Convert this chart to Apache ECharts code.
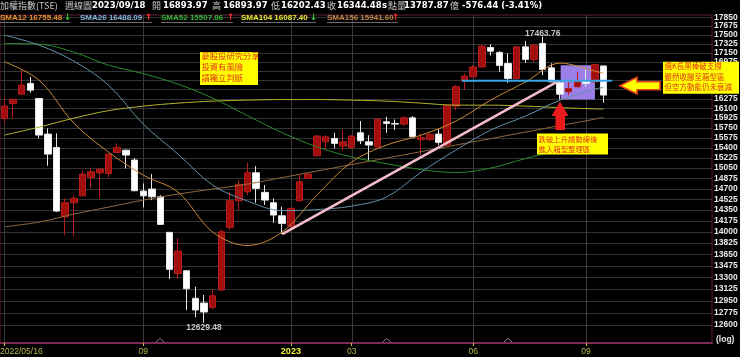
<!DOCTYPE html>
<html><head><meta charset="utf-8">
<script src="https://cdn.jsdelivr.net/npm/echarts@6/dist/echarts.min.js"></script>
<style>html,body{margin:0;padding:0;background:#000;}#c{width:740px;height:357px;}</style>
</head><body><div id="c"></div>
<script>
// ---- weekly candles (TAIEX), index 0 = 2022/05/16 ----
const openP  = [15918,16192,16362,16562,16283,15639,15405,14242,14470,14584,
                14892,14969,14959,15318,15358,15186,14662,14696,14568,13993,
                13353,13398,12986,12917,12854,13109,14072,14502,14650,14969,
                14641,14470,14258,14092,14502,14875,15260,15503,15563,15428,
                15405,15663,15503,15417,15858,15829,15817,15929,15545,15545,
                15639,15446,16142,16605,16686,16874,17250,17154,16940,16656,
                17262,17018,17329,16857,16574,16405,16499,16605,16592,16893.97];
const closeP = [16142,16265,16531,16437,15622,15289,14334,14470,14542,14947,
                14986,15032,15289,15405,15272,14668,14584,14568,14120,13420,
                13700,13128,12816,12787,13024,14002,14502,14774,14969,14707,
                14514,14270,14136,14378,14817,14947,15604,15591,15475,15503,
                15604,15521,15446,15906,15829,15817,15929,15591,15580,15634,
                15493,16160,16500,16700,16874,17276,17179,16900,16656,17262,
                17018,17296,16826,16592,16362,16468,16592,16562,16920,16344.48];
const lowP   = [15829,15937,16350,16387,15563,15089,14320,13950,13924,14580,
                14707,14542,14892,15310,15044,14660,14394,14514,14110,13273,
                13273,12816,12710,12629.48,12826,13100,14029,14350,14596,14470,
                14433,14146,13966,14060,14495,14863,15245,15370,15388,15346,
                15388,15463,15174,15388,15663,15710,15781,15580,15272,15521,
                15446,15428,16069,16437,16675,16870,17091,16780,16574,16637,
                16953,16970,16718,16586,16265,16344,16490,16499,16580,16202.43];
const highP  = [16283,16280,16813,16686,16290,15740,15652,14542,14596,15015,
                15061,15040,15295,15475,15365,15220,14790,14947,14596,14000,
                13899,13405,13158,13035,13109,14040,14650,14846,15140,15083,
                14762,14542,14404,14388,14947,14981,15620,15620,15663,15710,
                15620,15870,15620,15918,15947,15900,15960,15960,15652,15652,
                15728,16180,16531,16750,16908,17316,17310,17180,17134,17270,
                17380,17310,17463.76,16945,16610,16592,16780,16826,16930,16893.97];

// ---- moving averages read at sampled weeks ----
const maIdx  = [0,4,8,12,16,20,24,28,32,36,40,44,48,52,56,60,64,68,69];
const sma12  = [16972,16624,15835,15324,14930,14646,13998,13786,13998,14596,15152,15445,15621,15870,16252,16587,16947,16794,16755.48];
const sma26  = [17492,17296,16985,16530,15817,15289,14762,14498,14342,14358,14415,14563,14981,15358,15710,15960,16252,16456,16488.09];
const sma52  = [17329,17316,17159,16908,16747,16549,16289,15969,15664,15415,15238,15126,15024,14973,15049,15212,15358,15480,15507.86];
const sma104 = [15621,15763,15924,16060,16142,16197,16234,16252,16262,16262,16252,16234,16197,16160,16160,16142,16115,16092,16087.40];
const sma156 = [14081,14157,14285,14399,14514,14613,14696,14779,14888,14998,15109,15220,15332,15446,15559,15675,15790,15906,15941.60];

// ---- axis ticks ----
const yTicks = [17850,17675,17500,17325,17150,16975,16800,16625,16450,16275,16100,15925,15750,15575,15400,
                15225,15050,14875,14700,14525,14350,14175,14000,13825,13650,13475,13300,13125,12950,12775,12600];
const xTickIdx  = [0,16,33,40,54,67];
const xTickText = ['2022/05/16','09','2023','03','06','09'];

// ---- annotations in data space ----
const trendPts = [[32, 13966], [63.8, 16605]];
const supportPts = [[52.7, 16614], [70.0, 16614]];
const boxRange = [64.07, 16908, 68.02, 16264];

const L = Math.log;
const cats = [];
{ let t = Date.UTC(2022,4,16);
  while (cats.length < 82) {
    const s = new Date(t).toISOString().slice(0,10).replace(/-/g,'/');
    if (s !== '2023/01/23') cats.push(s);
    t += 7*86400000;
  } }

const candleData = openP.map((o,i)=>[L(o), L(closeP[i]), L(lowP[i]), L(highP[i])]);
const maSeries = (name, arr, color) => ({
  name, type:'line', xAxisIndex:0, yAxisIndex:0, smooth:0.35, symbol:'none', silent:true,
  lineStyle:{color, width:1}, data: maIdx.map((x,k)=>[x, L(arr[k])]), z:3
});
const hiVal = Math.max(...highP), hiIdx = highP.indexOf(hiVal);
const loVal = Math.min(...lowP),  loIdx = lowP.indexOf(loVal);

const chart = echarts.init(document.getElementById('c'));
const F = 'Liberation Sans';
const numFont = 'bold 8.5px "DejaVu Sans"';
const cjkFont = '9px "Noto Sans CJK TC"';

function txt(x, y, s, fill, font, align){
  return {type:'text', silent:true, z:100, style:{x, y, text:s, fill, font, align:align||'left', verticalAlign:'middle'}};
}
const G = [];
// header line 1
G.push(txt(0,6,'加權指數(TSE)','#c8c8c8',cjkFont));
G.push(txt(65,6,'週線圖','#c8c8c8',cjkFont));
G.push(txt(92,6,'2023/09/18','#ffffff',numFont));
G.push(txt(152,6,'開','#c8c8c8',cjkFont));
G.push(txt(163,6,'16893.97','#ffffff',numFont));
G.push(txt(212,6,'高','#c8c8c8',cjkFont));
G.push(txt(223,6,'16893.97','#ffffff',numFont));
G.push(txt(271,6,'低','#c8c8c8',cjkFont));
G.push(txt(281,6,'16202.43','#ffffff',numFont));
G.push(txt(327,6,'收','#c8c8c8',cjkFont));
G.push(txt(337,6,'16344.48','#ffffff',numFont));
G.push(txt(382,6,'s','#ffffff',numFont));
G.push(txt(388,6,'點','#c8c8c8',cjkFont));
G.push(txt(397,6,'量','#c8c8c8',cjkFont));
G.push(txt(404,6,'13787.87','#ffffff',numFont));
G.push(txt(450,6,'億','#c8c8c8',cjkFont));
G.push(txt(462,6,'-576.44 (-3.41%)','#ffffff',numFont));
// header line 2 (MA legend)
const legFont = 'bold 8px "Liberation Sans"';
const arrFont = 'bold 9px "DejaVu Sans"';
const leg = [
  [0,'SMA12 16755.48','#e8902e','↓','#2ec82e',64,70],
  [80,'SMA26 16488.09','#7fb6de','↑','#ff2a2a',145,152],
  [161,'SMA52 15507.86','#33b233','↑','#ff2a2a',227,233],
  [241,'SMA104 16087.40','#eaea30','↓','#2ec82e',310,316],
  [327,'SMA156 15941.60','#c48646','↑','#ff2a2a',392,398]
];
leg.forEach(l=>{
  G.push({type:'line', silent:true, z:99, shape:{x1:l[0], y1:22.5, x2:l[6], y2:22.5}, style:{stroke:'#6a6a6a', lineWidth:1}});
  G.push(txt(l[0],17.5,l[1],l[2],legFont));
  G.push(txt(l[5],17.5,l[3],l[4],arrFont));
});
// (log)
G.push(txt(716,340,'(log)','#e6e6e6','bold 8.5px "Liberation Sans"'));
// small carets at bottom
[160,386.7,508].forEach(x=>{
  G.push({type:'polyline', silent:true, z:50, shape:{points:[[x-4,342],[x,338.5],[x+4,342]]}, style:{stroke:'#8a8a8a', lineWidth:1, fill:null}});
});
// annotation boxes
function box(x,y,w,h,lines,fs,lh,y0){
  G.push({type:'rect', silent:true, z:90, shape:{x,y,width:w,height:h}, style:{fill:'#ffff00'}});
  lines.forEach((s,k)=>G.push(txt(x+1.5, y0+k*lh, s, '#e2361a', fs+'px "Noto Sans CJK TC"')));
}
box(200,52,58,33,['豪股投研究分享','投資有風險','請獨立判斷'],8.3,10.8,56);
box(537,133.5,71,21,['跌破上升趨勢線後','進入箱型整理區'],7.4,9.8,139);
box(663,61.7,76,32,['週K長黑棒破支撐','雖然收腳至箱型區','但空方動能仍未衰減'],7.5,10.3,66.5);
// red up arrow
G.push({type:'polygon', silent:true, z:95, shape:{points:[[560,101.5],[568.5,116],[565,116],[565,130],[555.5,130],[555.5,116],[551.5,116]]}, style:{fill:'#ea1c1c'}});
// yellow left arrow
G.push({type:'polygon', silent:true, z:95, shape:{points:[[620,85.7],[637,77.3],[637,81.7],[660,81.7],[660,89.7],[637,89.7],[637,94]]}, style:{fill:'#ffff00', stroke:'#e8401a', lineWidth:1.6}});

const gridLineColor = '#343434';
const yLabelStyle = {color:'#e8e8e8', fontFamily:F, fontWeight:'bold', fontSize:8.5, margin:2, align:'left',
                     showMinLabel:true, showMaxLabel:true,
                     formatter:(v)=>String(Math.round(Math.exp(v)))};
const yMin = L(12346), yMax = L(17896);
// labels split over two overlaid axes (alternating) so that none is auto-hidden
const yEven = yTicks.filter((v,i)=>i%2===0).map(L);
const yOdd  = yTicks.filter((v,i)=>i%2===1).map(L);
const yAxisFor = (vals) => ({type:'value', position:'right', min:yMin, max:yMax, scale:true,
     axisLine:{show:false}, axisTick:{show:false, customValues:vals},
     axisLabel:Object.assign({customValues:vals}, yLabelStyle),
     splitLine:{show:false}});
const option = {
  backgroundColor:'#000000',
  animation:false,
  grid:{left:0, top:15, width:712, height:328, show:true, borderColor:'#5e1c3c', borderWidth:1, backgroundColor:'transparent', outerBoundsMode:'none', containLabel:false},
  xAxis:[
    {type:'category', data:cats, boundaryGap:true, show:false, gridIndex:0},
    {type:'value', min:-0.5, max:81.5, gridIndex:0, position:'bottom',
     axisLine:{show:true, onZero:false, lineStyle:{color:'#7e2a54', width:2}},
     axisTick:{show:true, customValues:xTickIdx, length:3, lineStyle:{color:'#c8c83c', width:1}},
     axisLabel:{show:true, customValues:xTickIdx, margin:4, showMinLabel:true, showMaxLabel:true,
       formatter:(v)=>{ const k = xTickIdx.indexOf(Math.round(v)); if(k<0) return '';
         if(k===0) return '{f|'+xTickText[k]+'}';
         if(xTickText[k].length===4) return '{y|'+xTickText[k]+'}';
         return '{m|'+xTickText[k]+'}'; },
       rich:{
         f:{color:'#b6b648', fontSize:8.5, fontFamily:F, padding:[0,0,0,34]},
         y:{color:'#f2f232', fontSize:9, fontWeight:'bold', fontFamily:F},
         m:{color:'#b6b648', fontSize:8.5, fontFamily:F}
       }},
     splitLine:{show:false}}
  ],
  yAxis:[ yAxisFor(yEven), yAxisFor(yOdd) ],
  series:[
    // horizontal grid lines at the price ticks
    {type:'custom', xAxisIndex:1, yAxisIndex:0, z:0, silent:true, clip:false,
     encode:{x:0, y:1},
     renderItem:(p, api)=>{ const cs = p.coordSys; const y = Math.round(api.coord([api.value(0), api.value(1)])[1]) + 0.5;
       return {type:'line', shape:{x1:cs.x, y1:y, x2:cs.x+cs.width, y2:y}, style:{stroke:gridLineColor, lineWidth:1}}; },
     data: yTicks.map(v=>[0, L(v)])},
    // vertical grid lines at the date ticks
    {type:'custom', xAxisIndex:1, yAxisIndex:0, z:0, silent:true, clip:false,
     encode:{x:0, y:1},
     renderItem:(p, api)=>{ const cs = p.coordSys; const x = Math.round(api.coord([api.value(0), api.value(1)])[0]) + 0.5;
       return {type:'line', shape:{x1:x, y1:cs.y, x2:x, y2:cs.y+cs.height}, style:{stroke:'#3a3a3a', lineWidth:1}}; },
     data: xTickIdx.map(v=>[v, L(yTicks[0])])},
    {type:'custom', xAxisIndex:1, yAxisIndex:0, z:1, silent:true,
     encode:{x:[0,2], y:[1,3]},
     renderItem:(p, api)=>{ const a = api.coord([api.value(0), api.value(1)]); const b = api.coord([api.value(2), api.value(3)]);
       return {type:'rect', shape:{x:a[0], y:a[1], width:b[0]-a[0], height:b[1]-a[1]}, style:{fill:'#9c80e8'}}; },
     data:[[boxRange[0], L(boxRange[1]), boxRange[2], L(boxRange[3])]]},
    {type:'candlestick', xAxisIndex:0, yAxisIndex:0, barWidth:7, z:2, silent:true,
     itemStyle:{color:'#a00e0e', color0:'#ffffff', borderColor:'#b81c1c', borderColor0:'#e6e6e6', borderWidth:1},
     data:candleData},
    maSeries('SMA156', sma156, '#8e6a3c'),
    maSeries('SMA104', sma104, '#b4b42c'),
    maSeries('SMA52', sma52, '#2c8a2c'),
    maSeries('SMA26', sma26, '#6291aa'),
    maSeries('SMA12', sma12, '#c98a34'),
    {type:'line', xAxisIndex:1, yAxisIndex:0, symbol:'none', silent:true, z:6,
     lineStyle:{color:'#f4bccb', width:2.6}, data:trendPts.map(p=>[p[0], L(p[1])])},
    {type:'line', xAxisIndex:1, yAxisIndex:0, symbol:'none', silent:true, z:6,
     lineStyle:{color:'#38a6e6', width:2}, data:supportPts.map(p=>[p[0], L(p[1])])},
    {type:'scatter', xAxisIndex:0, yAxisIndex:0, symbolSize:0, silent:true, z:7,
     label:{show:true, color:'#f2f2f2', fontFamily:F, fontWeight:'bold', fontSize:8.5},
     data:[
       {value:[hiIdx, L(hiVal)], label:{position:'top', distance:0, offset:[0,2], formatter:hiVal.toFixed(2)}},
       {value:[loIdx, L(loVal)], label:{position:'bottom', distance:0, formatter:loVal.toFixed(2)}}
     ]}
  ],
  graphic:G
};
chart.setOption(option);
</script>
</body></html>
